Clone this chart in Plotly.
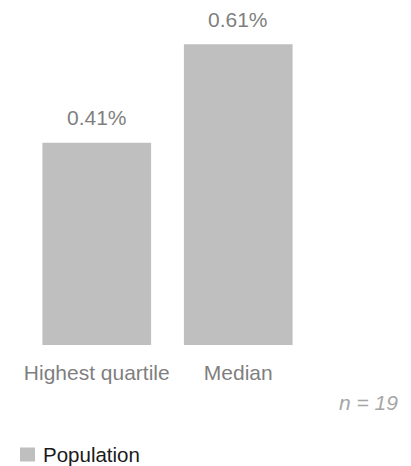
import plotly.graph_objects as go

categories = ["Highest quartile", "Median"]
values = [0.41, 0.61]
value_labels = ["0.41%", "0.61%"]
series_name = "Population"
note = "n = 19"

W, H = 411, 466
L, R, T, B = 26, 102, 10, 121
plot_w = W - L - R
plot_h = H - T - B
px_per_unit = 493.0
ymax = plot_h / px_per_unit

FONT = "Arial, Liberation Sans, sans-serif"
BAR_COLOR = "#bfbfbf"


def px_x(px):
    return (px - L) / plot_w


def px_y(py):
    return (T + plot_h - py) / plot_h


fig = go.Figure()
fig.add_trace(go.Bar(
    x=categories, y=values, name=series_name,
    marker=dict(color=BAR_COLOR, line=dict(width=0)),
    showlegend=False, hoverinfo="skip",
))

for c, v, lab in zip(categories, values, value_labels):
    fig.add_annotation(
        x=c, y=v, xref="x", yref="y", text=lab, showarrow=False,
        yanchor="middle", xanchor="center", yshift=25,
        font=dict(family=FONT, size=21, color="#7f7f7f"),
    )

fig.add_annotation(
    x=px_x(400), y=px_y(402), xref="paper", yref="paper",
    text="<i>" + note + "</i>", showarrow=False, xanchor="right", yanchor="middle",
    font=dict(family=FONT, size=21, color="#a6a6a6"),
)

# legend: swatch + label
fig.add_shape(
    type="rect", xref="paper", yref="paper",
    x0=px_x(20), x1=px_x(35), y0=px_y(461.5), y1=px_y(447.5),
    fillcolor=BAR_COLOR, line=dict(width=0),
)
fig.add_annotation(
    x=px_x(41), y=px_y(454.5), xref="paper", yref="paper",
    text=series_name, showarrow=False, xanchor="left", yanchor="middle",
    font=dict(family=FONT, size=20.5, color="#1a1a1a"),
)

fig.update_layout(
    width=W, height=H,
    margin=dict(l=L, r=R, t=T, b=B, autoexpand=False),
    paper_bgcolor="white", plot_bgcolor="white",
    bargap=0.232,
    showlegend=False,
    xaxis=dict(
        showgrid=False, showline=False, zeroline=False, ticks="",
        tickfont=dict(family=FONT, size=21, color="#7f7f7f"),
        ticklabelstandoff=13,
        range=[-0.5, 1.5], fixedrange=True,
    ),
    yaxis=dict(
        visible=False, range=[0, ymax], fixedrange=True,
    ),
)

fig.write_html("out.html")
